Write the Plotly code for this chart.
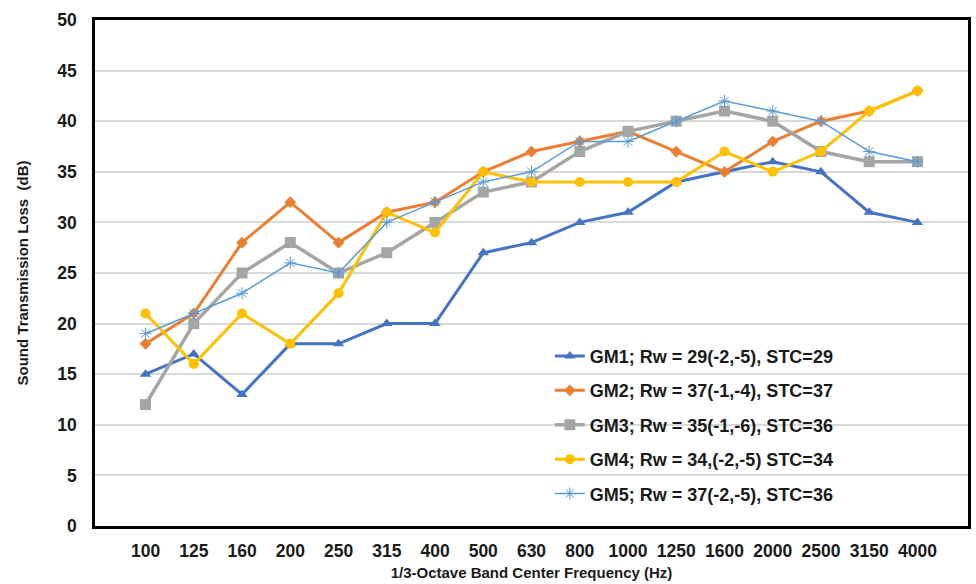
import plotly.graph_objects as go

freqs = ["100", "125", "160", "200", "250", "315", "400", "500", "630", "800",
         "1000", "1250", "1600", "2000", "2500", "3150", "4000"]

gm1 = [15, 17, 13, 18, 18, 20, 20, 27, 28, 30, 31, 34, 35, 36, 35, 31, 30]
gm2 = [18, 21, 28, 32, 28, 31, 32, 35, 37, 38, 39, 37, 35, 38, 40, 41, 43]
gm3 = [12, 20, 25, 28, 25, 27, 30, 33, 34, 37, 39, 40, 41, 40, 37, 36, 36]
gm4 = [21, 16, 21, 18, 23, 31, 29, 35, 34, 34, 34, 34, 37, 35, 37, 41, 43]
gm5 = [19, 21, 23, 26, 25, 30, 32, 34, 35, 38, 38, 40, 42, 41, 40, 37, 36]

names = ["GM1; Rw = 29(-2,-5), STC=29",
         "GM2; Rw = 37(-1,-4), STC=37",
         "GM3; Rw = 35(-1,-6), STC=36",
         "GM4; Rw = 34,(-2,-5) STC=34",
         "GM5; Rw = 37(-2,-5), STC=36"]

series = [gm1, gm2, gm3, gm4, gm5]
colors = ["#4472C4", "#ED7D31", "#A5A5A5", "#FFC000", "#5B9BD5"]
symbols = ["triangle-up", "diamond", "square", "circle", "asterisk-open"]
widths = [3, 3, 3.5, 3, 1.5]
msizes = [10, 9, 11, 10, 10]

font_family = "Liberation Sans, Arial, sans-serif"

fig = go.Figure()
for i, (vals, name) in enumerate(zip(series, names)):
    marker = dict(symbol=symbols[i], size=msizes[i], color=colors[i])
    if symbols[i] == "asterisk-open":
        marker["line"] = dict(color=colors[i], width=1)
    fig.add_trace(go.Scatter(
        x=freqs, y=vals, name=name, mode="lines+markers",
        line=dict(color=colors[i], width=widths[i]),
        marker=marker, legendgroup=f"g{i}",
    ))

fig.update_layout(
    width=976, height=584,
    margin=dict(l=95, r=5, t=20, b=58),
    plot_bgcolor="white", paper_bgcolor="white",
    font=dict(family=font_family, color="#1a1a1a"),
    showlegend=True,
    legend=dict(
        x=0.521, y=0.372, xanchor="left", yanchor="top",
        bgcolor="rgba(255,255,255,0)",
        font=dict(size=18, family=font_family, color="#1a1a1a", weight="bold"),
        tracegroupgap=8, traceorder="grouped",
    ),
    xaxis=dict(
        type="category", categoryorder="array", categoryarray=freqs,
        showline=True, linecolor="black", linewidth=2.5, mirror=True,
        showgrid=False, ticks="outside", ticklen=7, tickcolor="rgba(0,0,0,0)",
        tickfont=dict(size=17.5, weight="bold", color="#1a1a1a"),
        title=dict(text="1/3-Octave Band Center Frequency (Hz)",
                   font=dict(size=15, weight="bold", color="#1a1a1a"), standoff=8),
    ),
    yaxis=dict(
        range=[0, 50], dtick=5, tick0=0,
        showline=True, linecolor="black", linewidth=2.5, mirror=True,
        showgrid=True, gridcolor="#d9d9d9", gridwidth=1.5, zeroline=False,
        ticks="outside", ticklen=12, tickcolor="rgba(0,0,0,0)",
        tickfont=dict(size=17.5, weight="bold", color="#1a1a1a"),
        title=dict(text="Sound Transmission Loss  (dB)",
                   font=dict(size=15, weight="bold", color="#1a1a1a"), standoff=26),
    ),
)

fig.write_html("out.html")
